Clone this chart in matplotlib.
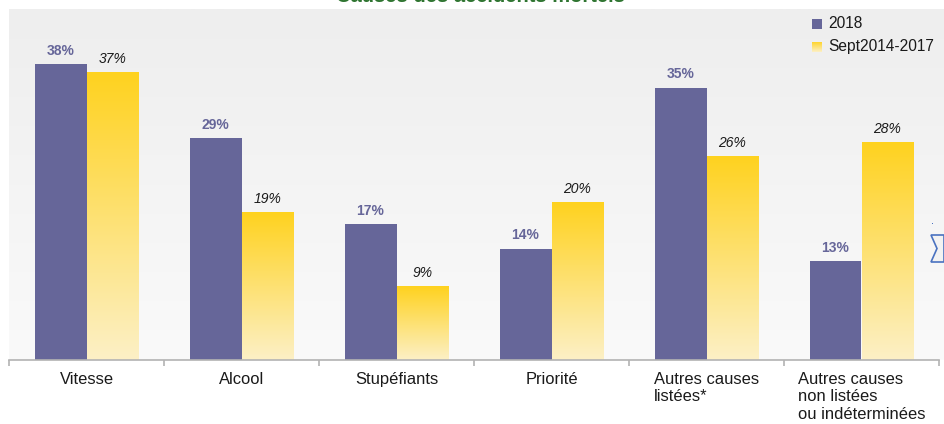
import matplotlib
matplotlib.use("Agg")
import matplotlib.pyplot as plt
import numpy as np
from matplotlib.colors import LinearSegmentedColormap
from matplotlib.patches import Polygon, Rectangle

plt.rcParams['font.family'] = ['Liberation Sans', 'DejaVu Sans']

categories = ["Vitesse", "Alcool", "Stupéfiants", "Priorité",
              "Autres causes\nlistées*", "Autres causes\nnon listées\nou indéterminées"]
series_names = ["2018", "Sept2014-2017"]
values_2018 = [38.0, 28.5, 17.5, 14.3, 35.0, 12.7]
values_hist = [37.0, 19.0, 9.5, 20.3, 26.2, 28.0]
labels_2018 = ["38%", "29%", "17%", "14%", "35%", "13%"]
labels_hist = ["37%", "19%", "9%", "20%", "26%", "28%"]
title = "Causes des accidents mortels"

W, H = 944, 424
fig = plt.figure(figsize=(W / 100, H / 100), dpi=100)
fig.patch.set_facecolor("white")

left, right, top, bottom = 9, 944, 9, 360
ax = fig.add_axes([left / W, 1 - bottom / H, (right - left) / W, (bottom - top) / H])

n = len(categories)
cat_px = 155.0
xmin = -0.5
xmax = n - 0.5 + (right - 939) / cat_px

# background gradient
bg = LinearSegmentedColormap.from_list("bg", ["#fafafa", "#eeeeee"])
grad = np.linspace(0, 1, 256).reshape(-1, 1)
ax.imshow(grad, extent=[0, 1, 0, 1], transform=ax.transAxes, aspect='auto',
          cmap=bg, origin='lower', zorder=0)

bw = 0.335
x = np.arange(n)
purple = "#666699"
b1 = ax.bar(x - bw / 2, values_2018, width=bw, color=purple, zorder=2)
b2 = ax.bar(x + bw / 2, values_hist, width=bw, color="none", zorder=2)

ycmap = LinearSegmentedColormap.from_list("yel", ["#fcf0c6", "#ffd21f"])
for r in b2:
    x0, w, h = r.get_x(), r.get_width(), r.get_height()
    ax.imshow(grad, extent=[x0, x0 + w, 0, h], aspect='auto', cmap=ycmap,
              origin='lower', zorder=2)

for r, t in zip(b1, labels_2018):
    ax.annotate(t, (r.get_x() + r.get_width() / 2, r.get_height()),
                xytext=(0, 4.5), textcoords='offset points', ha='center', va='bottom',
                fontsize=10, fontweight='bold', color=purple, zorder=3)
for r, t in zip(b2, labels_hist):
    ax.annotate(t, (r.get_x() + r.get_width() / 2, r.get_height()),
                xytext=(0, 4.5), textcoords='offset points', ha='center', va='bottom',
                fontsize=10, fontstyle='italic', color="#1a1a1a", zorder=3)

ax.set_aspect('auto')
ax.set_xlim(xmin, xmax)
ax.set_ylim(0, 45.1)

for s in ax.spines.values():
    s.set_visible(False)
ax.plot([-0.5, n - 0.5], [0, 0], color="#b3b3b3", lw=1.2, clip_on=False, zorder=4)

ax.set_yticks([])
ax.set_xticks(x)
ax.set_xticklabels(categories, fontsize=11.9, color="#1a1a1a", linespacing=1.2)
for lbl in ax.get_xticklabels():
    lbl.set_multialignment('left')
ax.set_xticks(np.arange(-0.5, n), minor=True)
ax.tick_params(axis='x', which='major', length=0, pad=8.5)
ax.tick_params(axis='x', which='minor', length=4.3, color="#b3b3b3", width=1.2)

# title (partially cut at top, as in the reference)
fig.text(480 / W, 1 - 2 / H, title, ha='center', va='baseline', fontsize=14.5,
         fontweight='bold', color="#2e7430")

# legend
def px(xp, yp):
    return xp / W, 1 - yp / H

sw = 10
fig.patches.append(Rectangle(px(812, 29), sw / W, sw / H, transform=fig.transFigure,
                             facecolor=purple, edgecolor='none'))
lax = fig.add_axes([812 / W, 1 - 52 / H, sw / W, sw / H])
lax.imshow(grad, extent=[0, 1, 0, 1], aspect='auto', cmap=ycmap, origin='lower')
lax.axis('off')
fig.text(*px(828, 24), series_names[0], fontsize=11.2, va='center', ha='left', color="#1a1a1a")
fig.text(*px(828, 47), series_names[1], fontsize=11.2, va='center', ha='left', color="#1a1a1a")

# navigation chevron decoration on right edge
chev = [px(931, 235), px(944, 235), px(944, 262), px(931, 262), px(937, 248.5)]
fig.patches.append(Polygon(chev, closed=True, transform=fig.transFigure,
                           facecolor="#f2f2f2", edgecolor="#4a72c0", lw=1.2))
fig.patches.append(Rectangle(px(931.5, 224), 1.2 / W, 1.2 / H, transform=fig.transFigure,
                             facecolor="#4a72c0", edgecolor='none'))

fig.savefig("out.png", dpi=100)
